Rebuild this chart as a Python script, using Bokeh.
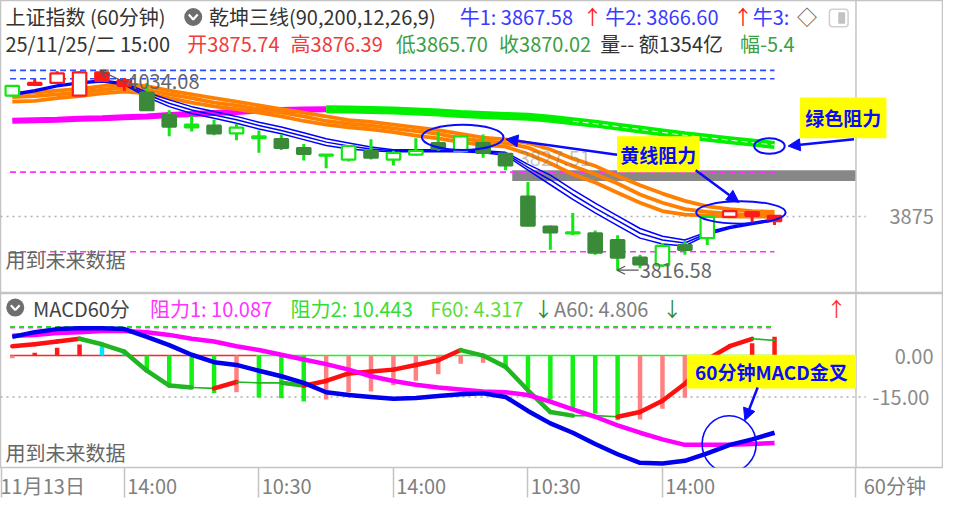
from bokeh.plotting import figure
from bokeh.layouts import column
from bokeh.models import (ColumnDataSource, Label, Arrow, NormalHead, OpenHead,
                          FixedTicker, BoxAnnotation, Range1d, Span)
from bokeh.embed import file_html
from bokeh.resources import INLINE

# ---------------- data ----------------
bar_index = list(range(35))
bar_open = [4006.7, 4020.4, 4020.4, 4006.7, 4031.9, 4023.6, 4009.8, 3985.5, 3975.0, 3973.9,
            3965.5, 3962.3, 3959.2, 3949.6, 3942.3, 3937.0, 3946.5, 3937.0, 3942.3, 3954.9,
            3946.5, 3954.9, 3943.3, 3896.8, 3864.1, 3857.8, 3856.7, 3849.3, 3830.3, 3821.9,
            3844.0, 3851.4, 3874.7, 3879.9, 3875.74]
bar_high = [4018.0, 4024.6, 4033.1, 4033.1, 4034.08, 4025.7, 4020.4, 3990.8, 3984.5, 3980.3,
            3976.0, 3968.6, 3964.4, 3953.9, 3942.6, 3952.8, 3959.2, 3946.5, 3960.2, 3967.6,
            3963.4, 3964.4, 3944.4, 3912.7, 3865.2, 3878.9, 3859.9, 3854.6, 3833.5, 3846.2,
            3848.3, 3875.8, 3881.0, 3880.5, 3876.39]
bar_low = [4005.5, 4017.2, 4020.4, 4006.7, 4021.5, 4011.9, 3990.8, 3962.3, 3967.6, 3963.4,
           3958.1, 3944.4, 3947.5, 3935.9, 3927.5, 3934.9, 3937.0, 3930.6, 3941.2, 3946.5,
           3945.0, 3939.1, 3925.3, 3864.1, 3838.8, 3854.6, 3833.5, 3816.58, 3818.7, 3820.0,
           3833.5, 3844.0, 3874.7, 3867.3, 3865.70]
bar_close = [4017.2, 4018.3, 4030.9, 4032.0, 4022.5, 4017.2, 3990.8, 3972.9, 3972.0, 3965.5,
             3971.8, 3960.2, 3949.6, 3943.3, 3941.3, 3951.8, 3939.1, 3944.4, 3946.5, 3948.6,
             3962.3, 3944.4, 3930.6, 3865.2, 3857.8, 3856.7, 3835.6, 3830.3, 3823.0, 3843.0,
             3838.8, 3874.7, 3881.0, 3875.8, 3870.02]
bar_state = ["green", "red", "red", "red", "red", "red", "dark", "dark", "green", "dark",
             "green", "green", "dark", "dark", "green", "green", "dark", "green", "green", "dark",
             "green", "dark", "dark", "dark", "dark", "green", "dark", "dark", "dark", "green",
             "dark", "green", "red", "red", "red"]

orange_top = [4009, 4010, 4012, 4014, 4017, 4019, 4017, 4012, 4008, 4004, 4000, 3996, 3992, 3988,
              3984, 3980, 3978, 3975, 3972, 3969, 3965, 3961, 3959, 3955, 3948, 3938, 3930, 3919,
              3909, 3900, 3892, 3886, 3883, 3881, 3880]
orange_mid = [4005, 4006, 4008, 4010, 4013, 4015, 4013, 4008, 4004, 3999, 3996, 3992, 3988, 3984,
              3979, 3976, 3974, 3971, 3968, 3965, 3960, 3957, 3955, 3950, 3940, 3930, 3921, 3911,
              3899, 3890, 3883, 3880, 3878, 3877, 3877]
orange_low = [4000, 4001, 4004, 4006, 4009, 4011, 4009, 4004, 3999, 3995, 3992, 3988, 3984, 3979,
              3975, 3972, 3970, 3967, 3963, 3960, 3956, 3953, 3951, 3943, 3933, 3921, 3912, 3901,
              3890, 3881, 3877, 3876, 3875, 3875, 3875]
blue_up = [4008.8, 4013.0, 4018.3, 4021.5, 4023.6, 4020.4, 4010.4, 4002.0, 3994.6, 3989.3,
           3984.0, 3977.7, 3972.4, 3966.1, 3959.7, 3955.0, 3950.7, 3947.6, 3947.6, 3947.6,
           3947.6, 3946.5, 3944.9, 3931.7, 3920.1, 3904.3, 3889.5, 3875.8, 3862.0, 3853.6,
           3849.4, 3858.3, 3864.2, 3868.4, 3872.6]
blue_mid = [4007.8, 4012.0, 4017.3, 4020.4, 4022.5, 4019.4, 4007.8, 3998.3, 3990.9, 3985.6,
            3980.3, 3974.0, 3968.7, 3962.4, 3956.0, 3951.8, 3948.6, 3946.5, 3946.5, 3946.5,
            3946.5, 3945.5, 3943.4, 3928.6, 3914.8, 3899.0, 3884.2, 3870.5, 3856.8, 3849.4,
            3846.2, 3856.8, 3863.1, 3867.3, 3871.5]
blue_low = [4006.7, 4010.9, 4016.2, 4019.4, 4021.5, 4018.3, 4005.1, 3994.6, 3987.2, 3981.9,
            3976.6, 3970.3, 3965.0, 3958.7, 3952.3, 3948.6, 3946.5, 3945.5, 3945.5, 3945.5,
            3945.5, 3944.4, 3941.8, 3925.4, 3909.6, 3893.7, 3878.9, 3865.2, 3851.5, 3845.1,
            3843.0, 3855.2, 3862.0, 3866.3, 3870.5]
trend_line = [3979.3, 3979.8, 3980.3, 3981.4, 3981.9, 3983.0, 3984.0, 3985.6, 3986.6, 3987.7,
              3988.8, 3990.3, 3990.9, 3991.4, 3991.9, 3991.4, 3990.9, 3990.3, 3989.3, 3988.2,
              3986.6, 3985.6, 3984.5, 3983.5, 3981.4, 3978.7, 3976.1, 3972.9, 3969.8, 3966.6,
              3963.4, 3960.8, 3958.1, 3955.5, 3952.9]
trend_switch = 14          # magenta up to this bar, green after
blue_levels = [4034.08, 4024.9]
magenta_levels = [3923.3, 3836.7]
gray_zone = [3913.8, 3925.4]
gray_zone_start = 22.3
price_tick = [3875]

macd_dif = [6.8, 8.5, 9.6, 9.9, 9.9, 9.6, 6.8, 3.8, 0.3, -2.4, -3.4, -5.5, -7.5, -9.9, -13.3,
            -14.3, -15.0, -15.7, -15.4, -14.7, -14.0, -13.7, -15.0, -20.1, -24.6, -28.0, -32.1,
            -35.8, -38.9, -39.2, -38.2, -35.5, -32.4, -30.4, -28.0]
macd_dea = [7.2, 7.5, 8.2, 8.5, 8.9, 8.9, 8.5, 7.5, 6.1, 5.1, 3.4, 2.0, 0.3, -1.4, -3.1, -5.1,
            -7.5, -9.2, -10.6, -11.6, -12.3, -13.0, -13.3, -14.3, -16.7, -19.5, -22.2, -25.3,
            -28.0, -30.4, -32.4, -32.4, -32.4, -32.1, -31.7]
macd_hist = [-1.0, 1.0, 2.8, 4.0, 3.4, 1.7, -5.7, -10.8, -11.0, -13.6, -13.3, -15.3, -15.5, -16.7,
             -15.9, -13.4, -13.0, -10.8, -9.1, -6.8, -3.0, -2.6, -4.5, -11.9, -15.9, -19.3, -21.0,
             -23.5, -23.2, -19.3, -15.3, -9.0, -4.0, 4.5, 6.8]
macd_f60 = [3.4, 4.1, 5.1, 6.1, 4.1, 1.4, -5.5, -10.9, -11.6, -11.9, -9.6, -9.9, -9.9, -10.9,
            -9.2, -6.5, -5.8, -5.1, -3.4, -1.7, 2.0, 0.0, -4.1, -12.6, -20.5, -21.8, -21.8, -22.2,
            -20.5, -16.4, -10.2, -1.4, 3.4, 6.1, 5.5]
resist1 = 10.087
resist2 = 10.443
zero_split = 10.9
macd_ticks = [0, -15]
macd_tick_labels = ["0.00", "-15.00"]
time_ticks = [5, 11, 17, 23, 29]
time_labels = ["14:00", "10:30", "14:00", "10:30", "14:00"]
first_day_label = "11月13日"
period_label = "60分钟"

# ---------------- layout helpers ----------------
FONT = "Noto Sans CJK SC"
W, H1, H2 = 943, 293, 209
BOTTOM = 30
RED, GREEN, DARK = "#ff1a1a", "#14e614", "#3a8a3a"
BLUE = "#0a0aff"
FSP = "\u2007"   # figure space, used to position axis labels next to their separators


def bx(px):
    return (px - 12.0) / 22.8


def py(y):
    return 3816.58 + (278.0 - y) / 0.947


def my(y):
    return (368.0 - y) / 2.93


x_sep = bx(870)               # bar area / scale panel separator
xr = Range1d(bx(0), bx(958))


def base_fig(h, yr, bottom):
    f = figure(width=W, height=h, x_range=xr, y_range=yr, output_backend="svg",
               toolbar_location=None, y_axis_location="right",
               x_axis_location="below" if bottom else None,
               min_border_left=0, min_border_right=1, min_border_top=0,
               min_border_bottom=BOTTOM if bottom else 0,
               background_fill_color="white", border_fill_color="white")
    f.xgrid.visible = False
    f.ygrid.visible = False
    f.outline_line_color = "#c4c4c4"
    f.outline_line_width = 1.5
    f.add_layout(Span(location=x_sep, dimension="height", line_color="#c4c4c4",
                      line_width=1.5))
    return f


def style_y(ax, ticks, labels, standoff):
    ax.ticker = FixedTicker(ticks=ticks)
    ax.major_label_overrides = {t: s for t, s in zip(ticks, labels)}
    ax.axis_line_color = None
    ax.major_tick_line_color = None
    ax.minor_tick_line_color = None
    ax.major_label_standoff = standoff
    ax.major_label_text_font = FONT
    ax.major_label_text_font_size = "20px"
    ax.major_label_text_color = "#8a8a8a"


def lab(f, xpx, ypx, text, color, fy, size="20px", bold=False, align="left", alpha=1.0):
    f.add_layout(Label(x=bx(xpx), y=fy(ypx), text=text, text_color=color, text_font=FONT,
                       text_font_size=size, text_font_style="bold" if bold else "normal",
                       text_align=align, text_baseline="middle", text_alpha=alpha))


def callout(f, fy, l, t, r, b, text):
    f.add_layout(BoxAnnotation(left=bx(l), right=bx(r), top=fy(t), bottom=fy(b),
                               fill_color="#ffff00", fill_alpha=1.0, line_color=None))
    lab(f, (l + r) / 2, (t + b) / 2, text, BLUE, fy, size="19px", bold=True, align="center")


def arrow(f, fy, x0, y0, x1, y1):
    f.add_layout(Arrow(end=NormalHead(size=12, fill_color=BLUE, line_color=BLUE),
                       x_start=bx(x0), y_start=fy(y0), x_end=bx(x1), y_end=fy(y1),
                       line_color=BLUE, line_width=2.5))


def icon(f, fy, xpx, ypx):
    f.scatter(x=[bx(xpx)], y=[fy(ypx)], size=18, marker="circle",
              fill_color="#6e6e6e", line_color=None)
    f.line(x=[bx(xpx - 4.5), bx(xpx), bx(xpx + 4.5)],
           y=[fy(ypx - 2.5), fy(ypx + 2.5), fy(ypx - 2.5)],
           line_color="white", line_width=2.2)


# ================= price panel =================
p1 = base_fig(H1, Range1d(py(302), py(0)), False)
style_y(p1.yaxis[0], price_tick, [str(v) for v in price_tick], -59)

lvl_x0, lvl_x1 = bar_index[0] - 0.1, bar_index[-1]
p1.quad(left=[gray_zone_start], right=[x_sep], bottom=[gray_zone[0]], top=[gray_zone[1]],
        fill_color="#878787", line_color=None)
for v in blue_levels:
    p1.line(x=[lvl_x0, lvl_x1], y=[v, v], line_color="#2a4bff", line_width=1.6, line_dash="6 4")
for v in magenta_levels:
    p1.line(x=[lvl_x0, lvl_x1], y=[v, v], line_color="#ff30ff", line_width=1.6, line_dash="6 4")
p1.line(x=[bx(0), bx(880)], y=[price_tick[0]] * 2, line_color="#b0b0b0",
        line_width=1.5, line_dash="2 4")

# trend band (magenta -> green)
p1.line(bar_index[:trend_switch + 1], trend_line[:trend_switch + 1], line_color="#ff00ff",
        line_width=6, line_join="round")
p1.line(bar_index[trend_switch:], trend_line[trend_switch:], line_color="#00f000",
        line_width=8, line_join="round")
p1.line(bar_index[25:], trend_line[25:], line_color="white", line_width=1, line_dash="6 4")

# orange lines
for ser in (orange_top, orange_mid, orange_low):
    p1.line(bar_index, ser, line_color="#ff8000", line_width=3.8, line_join="round")
# blue lines
for ser in (blue_up, blue_mid, blue_low):
    p1.line(bar_index, ser, line_color="#0000ff", line_width=1.5, line_join="round")

# candles
fills, lines, wicks = [], [], []
for o, c, s in zip(bar_open, bar_close, bar_state):
    col = RED if s == "red" else GREEN
    body = RED if s == "red" else (DARK if s == "dark" else GREEN)
    hollow = c > o
    fills.append("white" if hollow else body)
    lines.append(col if hollow else body)
    wicks.append(col)
csrc = ColumnDataSource(dict(
    x=bar_index, h=bar_high, l=bar_low,
    top=[max(o, c) for o, c in zip(bar_open, bar_close)],
    bot=[min(o, c) for o, c in zip(bar_open, bar_close)],
    fill=fills, line=lines, wick=wicks))
p1.segment(x0="x", y0="h", x1="x", y1="l", line_color="wick", line_width=3, source=csrc)
p1.vbar(x="x", width=0.6, top="top", bottom="bot", fill_color="fill", line_color="line",
        line_width=2.2, source=csrc)

# header rows
icon(p1, py, 196, 17)
for xpx, ypx, t, c in [
    (5, 17, "上证指数 (60分钟)", "#333333"),
    (212, 17, "乾坤三线(90,200,12,26,9)", "#333333"),
    (467, 17, "牛1: 3867.58", "#3b3bff"),
    (592, 17, "↑", "#ff2020"),
    (615, 17, "牛2: 3866.60", "#3b3bff"),
    (745, 17, "↑", "#ff2020"),
    (765, 17, "牛3:", "#3b3bff"),
    (810, 17, "◇", "#555555"),
    (5, 44, "25/11/25/二 15:00", "#333333"),
    (190, 44, "开3875.74", "#f03c3c"),
    (295, 44, "高3876.39", "#f03c3c"),
    (402, 44, "低3865.70", "#3aa043"),
    (507, 44, "收3870.02", "#3aa043"),
    (610, 44, "量-- 额1354亿", "#333333"),
    (752, 44, "幅-5.4", "#3aa043"),
]:
    lab(p1, xpx, ypx, t, c, py)
p1.add_layout(BoxAnnotation(left=bx(843), right=bx(862), top=py(9), bottom=py(27),
                            fill_color="white", line_color="#666666", line_width=1.6,
                            border_radius=3))
p1.add_layout(BoxAnnotation(left=bx(852), right=bx(859), top=py(12), bottom=py(24),
                            fill_color="#666666", line_color=None))

# marks for high / low
lab(p1, 129, 83, "4034.08", "#666666", py)
p1.add_layout(Arrow(end=OpenHead(size=8, line_color="#555555", line_width=1.3),
                    x_start=bx(128), y_start=py(85), x_end=bx(101), y_end=py(72),
                    line_color="#555555", line_width=1.3))
lab(p1, 650, 278, "3816.58", "#666666", py)
p1.add_layout(Arrow(end=OpenHead(size=8, line_color="#555555", line_width=1.3),
                    x_start=bx(649), y_start=py(278), x_end=bx(627), y_end=py(278),
                    line_color="#555555", line_width=1.3))
lab(p1, 527, 163, "3827.51", "#777777", py, alpha=0.45)
lab(p1, 5, 267, "用到未来数据", "#666666", py)

# annotations
p1.ellipse(x=[bx(470), bx(782), bx(753)], y=[py(141), py(150), py(218.5)],
           width=[83 / 22.8, 31 / 22.8, 91 / 22.8], height=[26 / 0.947, 16 / 0.947, 23 / 0.947],
           fill_color=None, line_color=BLUE, line_width=2)
callout(p1, py, 813, 100, 901, 142, "绿色阻力")
callout(p1, py, 627, 140, 711, 177, "黄线阻力")
arrow(p1, py, 627, 159, 514, 143)
arrow(p1, py, 868, 143, 801, 150)
arrow(p1, py, 707, 175, 751, 208)

# ================= MACD panel =================
p2 = base_fig(H2, Range1d(my(487), my(302)), True)
style_y(p2.yaxis[0], macd_ticks,
        [FSP * (len(macd_tick_labels[1]) - len(s)) + s for s in macd_tick_labels], -76)
xa = p2.xaxis[0]
x_ticks = [bx(1)] + time_ticks + [x_sep]
x_labels = [first_day_label] + [FSP * 5 + s for s in time_labels] + [FSP * 7 + period_label]
xa.ticker = FixedTicker(ticks=x_ticks)
xa.major_label_overrides = {t: s for t, s in zip(x_ticks, x_labels)}
xa.axis_line_color = None
xa.major_tick_in = 0
xa.major_tick_out = BOTTOM
xa.major_tick_line_color = "#c4c4c4"
xa.major_tick_line_width = 1.5
xa.minor_tick_line_color = None
xa.major_label_text_baseline = "top"
xa.major_label_standoff = -27
xa.major_label_text_font = FONT
xa.major_label_text_font_size = "20px"
xa.major_label_text_color = "#808080"

p2.line(x=[lvl_x0, lvl_x1], y=[resist2, resist2], line_color="#22dd22", line_width=1.5,
        line_dash="5 4")
p2.line(x=[lvl_x0, lvl_x1], y=[resist1, resist1], line_color="#ff40ff", line_width=1.5,
        line_dash="5 4")
p2.line(x=[bx(0), bx(880)], y=[-15, -15], line_color="#b0b0b0", line_width=1.5,
        line_dash="2 4")
p2.line(x=[lvl_x0, zero_split], y=[0, 0], line_color="#ff2020", line_width=1.5)
p2.line(x=[zero_split, lvl_x1], y=[0, 0], line_color="#22ee22", line_width=1.5)

hcol = []
for i, v in enumerate(macd_hist):
    prev = macd_hist[i - 1] if i > 0 else v
    if v >= 0:
        hcol.append("#ff1a1a" if v > prev else "#00e5ff")
    else:
        hcol.append("#14f014" if v < prev else "#ff8080")
p2.vbar(x=bar_index, width=0.2, top=macd_hist, bottom=0, fill_color=hcol, line_color=None)

sx0, sx1, sy0, sy1, scol, sw = [], [], [], [], [], []
for i in range(len(macd_f60) - 1):
    a, b = macd_f60[i], macd_f60[i + 1]
    sx0.append(bar_index[i]); sx1.append(bar_index[i + 1]); sy0.append(a); sy1.append(b)
    scol.append("#ff1010" if b > a else "#22b522")
    sw.append(4.5 if abs(b - a) >= 0.6 else 1.6)
p2.segment(x0=sx0, y0=sy0, x1=sx1, y1=sy1, line_color=scol, line_width=sw, line_cap="round")

p2.line(bar_index, macd_dea, line_color="#ff00ff", line_width=4.5, line_join="round")
p2.line(bar_index, macd_dif, line_color="#0000ee", line_width=4.5, line_join="round")

icon(p2, my, 15, 317)
for xpx, t, c in [
    (33, "MACD60分", "#444444"),
    (152, "阻力1: 10.087", "#ff33ff"),
    (295, "阻力2: 10.443", "#33dd33"),
    (437, "F60: 4.317", "#5fdc3c"),
    (542, "↓", "#2e8b2e"),
    (563, "A60: 4.806", "#808080"),
    (673, "↓", "#2e8b2e"),
    (840, "↑", "#ff3030"),
]:
    lab(p2, xpx, 318, t, c, my)
lab(p2, 5, 471, "用到未来数据", "#666666", my)

callout(p2, my, 698, 367, 870, 403, "60分钟MACD金叉")
p2.ellipse(x=[bx(741)], y=[my(462)], width=[55 / 22.8], height=[60 / 2.93],
           fill_color=None, line_color=BLUE, line_width=1.6)
arrow(p2, my, 770, 402, 757, 437)

layout = column(p1, p2, spacing=0)
open("out.html", "w").write(file_html(layout, INLINE))
